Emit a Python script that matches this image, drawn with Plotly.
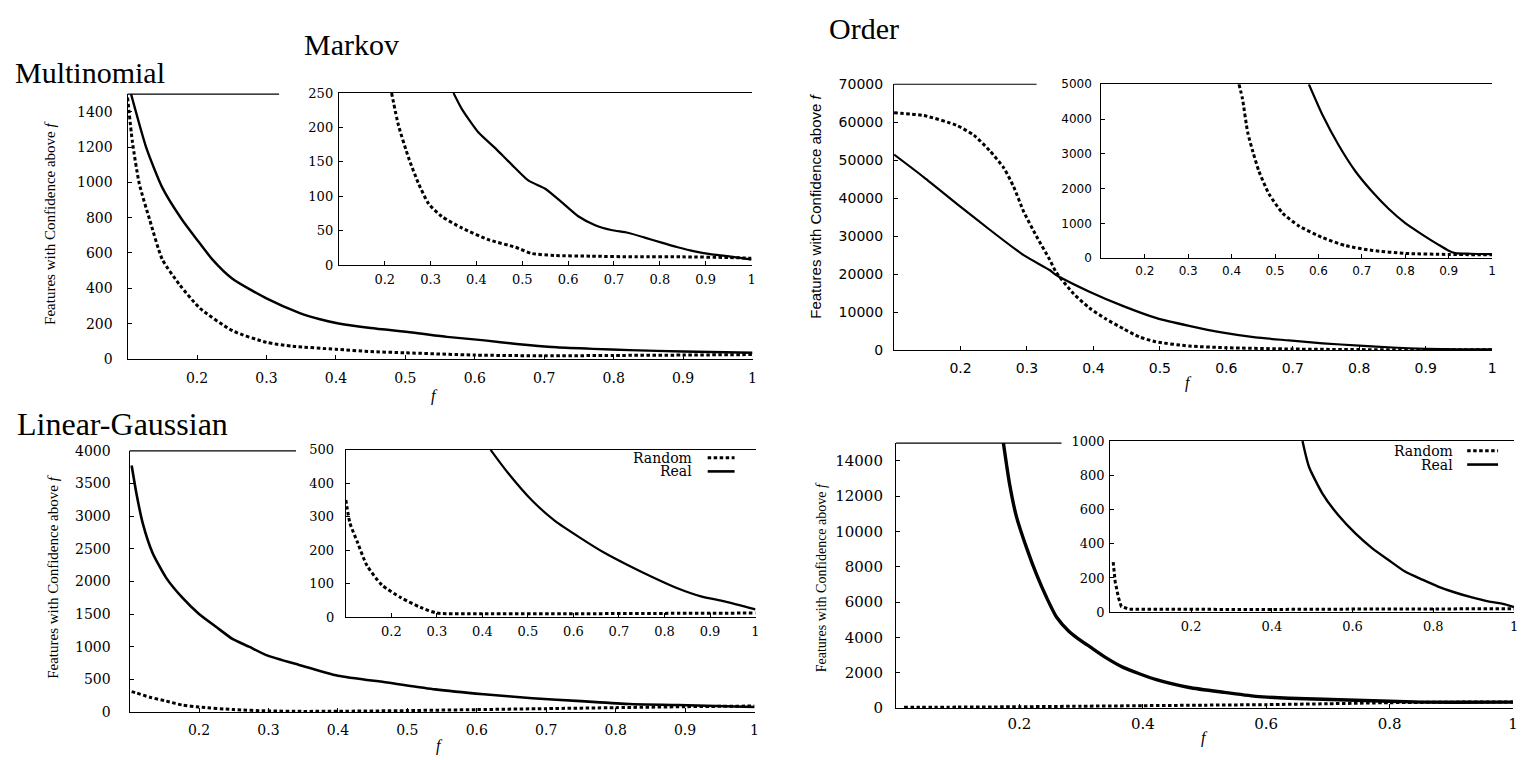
import plotly.graph_objects as go

W, H = 1526, 760

# ---------------- data: features with confidence above f ----------------
# Multinomial (main, top left)
multi_real_x = [0.105, 0.127, 0.15, 0.178, 0.2, 0.222, 0.251, 0.30, 0.348, 0.377, 0.404, 0.45, 0.51, 0.56, 0.614, 0.66, 0.718, 0.77, 0.823, 0.9, 1.0]
multi_real_y = [1500, 1195, 970, 791, 675, 564, 454, 343, 260, 225, 201, 175, 150, 125, 105, 85, 66, 57, 50, 42, 35]
multi_rand_x = [0.1, 0.107, 0.117, 0.132, 0.15, 0.175, 0.204, 0.251, 0.30, 0.338, 0.40, 0.45, 0.5, 0.6, 0.7, 0.8, 0.9, 1.0]
multi_rand_y = [1480, 1228, 990, 786, 564, 420, 288, 160, 94, 72, 55, 42, 35, 22, 18, 20, 22, 25]

# Markov (inset, top left)
markov_real_x = [0.35, 0.368, 0.404, 0.441, 0.477, 0.513, 0.55, 0.585, 0.622, 0.659, 0.694, 0.73, 0.767, 0.802, 0.839, 0.876, 0.91, 0.948, 1.0]
markov_real_y = [250, 227, 193, 170, 146, 123, 111, 92, 71, 58, 51, 47, 40, 33, 26, 20, 16, 13, 8]
markov_rand_x = [0.215, 0.23, 0.252, 0.274, 0.296, 0.324, 0.368, 0.426, 0.485, 0.52, 0.57, 0.65, 0.75, 0.85, 0.95, 1.0]
markov_rand_y = [250, 203, 156, 118, 89, 71, 54, 37, 26, 17, 14, 13, 12, 12, 11, 10]

# Order (main, top right)
order_real_x = [0.1, 0.145, 0.194, 0.244, 0.295, 0.334, 0.344, 0.394, 0.445, 0.494, 0.544, 0.595, 0.644, 0.694, 0.745, 0.8, 0.85, 0.9, 0.95, 1.0]
order_real_y = [51500, 45500, 38600, 31700, 25000, 21100, 19800, 15400, 11600, 8500, 6400, 4600, 3350, 2570, 1800, 1200, 700, 350, 200, 200]
order_rand_x = [0.1, 0.145, 0.194, 0.22, 0.244, 0.265, 0.28, 0.295, 0.314, 0.334, 0.344, 0.37, 0.394, 0.419, 0.445, 0.469, 0.494, 0.544, 0.6, 0.7, 0.8, 0.9, 1.0]
order_rand_y = [62500, 61750, 59200, 56600, 52500, 48000, 43000, 36500, 30100, 23900, 20500, 14900, 11100, 8200, 5660, 3500, 2200, 1100, 650, 300, 150, 120, 120]

# Order (inset, top right)
order_in_real_x = [0.578, 0.61, 0.646, 0.685, 0.724, 0.761, 0.80, 0.84, 0.876, 0.899, 0.915, 0.95, 1.0]
order_in_real_y = [5000, 4100, 3260, 2500, 1910, 1430, 1010, 674, 393, 225, 150, 130, 120]
order_in_rand_x = [0.417, 0.425, 0.437, 0.449, 0.463, 0.486, 0.518, 0.555, 0.61, 0.662, 0.724, 0.80, 0.9, 1.0]
order_in_rand_y = [5000, 4580, 3620, 3060, 2500, 1850, 1290, 930, 590, 365, 225, 140, 110, 100]

# Linear-Gaussian (main, bottom left)
lg_real_x = [0.103, 0.11, 0.119, 0.133, 0.153, 0.176, 0.2, 0.225, 0.248, 0.272, 0.297, 0.344, 0.40, 0.471, 0.54, 0.61, 0.68, 0.75, 0.82, 0.89, 1.0]
lg_real_y = [3775, 3340, 2890, 2440, 2050, 1750, 1500, 1300, 1120, 1000, 870, 720, 554, 450, 345, 270, 210, 165, 120, 105, 75]
lg_rand_x = [0.103, 0.11, 0.129, 0.153, 0.176, 0.2, 0.25, 0.3, 0.35, 0.4, 0.5, 0.6, 0.7, 0.8, 0.9, 1.0]
lg_rand_y = [310, 290, 225, 165, 105, 75, 35, 15, 8, 10, 20, 35, 50, 65, 80, 90]

# Linear-Gaussian (inset, bottom left)
lg_in_real_x = [0.418, 0.455, 0.508, 0.56, 0.615, 0.667, 0.72, 0.773, 0.827, 0.88, 0.932, 1.0]
lg_in_real_y = [500, 433, 350, 287, 237, 193, 155, 120, 87, 62, 47, 23]
lg_in_rand_x = [0.1, 0.109, 0.126, 0.146, 0.179, 0.221, 0.264, 0.3, 0.4, 0.6, 0.8, 1.0]
lg_in_rand_y = [350, 281, 222, 155, 96, 58, 29, 12, 10, 10, 11, 12]

# Bottom right (main)
br_real_x = [0.174, 0.184, 0.195, 0.212, 0.228, 0.244, 0.26, 0.28, 0.3, 0.314, 0.34, 0.368, 0.422, 0.475, 0.53, 0.583, 0.637, 0.745, 0.853, 1.0]
br_real_y = [15000, 12680, 10850, 9020, 7530, 6250, 5150, 4350, 3800, 3470, 2850, 2300, 1600, 1160, 890, 660, 550, 440, 330, 330]
br_rand_x = [0.013, 0.1, 0.2, 0.3, 0.4, 0.5, 0.6, 0.7, 0.8, 0.9, 1.0]
br_rand_y = [40, 50, 70, 100, 130, 160, 190, 240, 300, 330, 340]

# Bottom right (inset)
br_in_real_x = [0.476, 0.492, 0.525, 0.566, 0.607, 0.649, 0.689, 0.731, 0.773, 0.812, 0.854, 0.896, 0.936, 0.978, 1.0]
br_in_real_y = [1000, 850, 695, 563, 460, 373, 305, 236, 190, 150, 115, 86, 63, 46, 29]
br_in_rand_x = [0.007, 0.012, 0.02, 0.027, 0.047, 0.2, 0.4, 0.6, 0.8, 1.0]
br_in_rand_y = [293, 178, 86, 34, 17, 15, 16, 18, 18, 20]

# tick labels
f_ticks_tenths = [0.2, 0.3, 0.4, 0.5, 0.6, 0.7, 0.8, 0.9, 1.0]
f_ticks_fifths = [0.2, 0.4, 0.6, 0.8, 1.0]

SERIF_TICK = "DejaVu Serif"
SANS_TICK = "DejaVu Sans"
SERIF = "Liberation Serif"
SANS = "Liberation Sans"

RAND_DASH = "3.5px,2.5px"


def fx(px):
    return px / W


def fy(py):
    return 1 - py / H


def flabel(v):
    return "1" if v == 1.0 else f"{v:g}"


# each subplot: pixel box (left, right, top, bottom), ranges, ticks, style, data
panels = [
    dict(box=(128, 755, 88, 359), xr=[0.1, 1.0], yr=[0, 1500], xt=f_ticks_tenths,
         yt=list(range(0, 1401, 200)), fam=SERIF_TICK, fs=14, ys=11, xs=6,
         real=(multi_real_x, multi_real_y), rand=(multi_rand_x, multi_rand_y), rw=2.4),
    dict(box=(340, 754, 87, 263), xr=[0.1, 1.0], yr=[0, 250], xt=f_ticks_tenths,
         yt=list(range(0, 251, 50)), fam=SERIF_TICK, fs=13, ys=2, xs=2,
         real=(markov_real_x, markov_real_y), rand=(markov_rand_x, markov_rand_y), rw=2.2, inset=True),
    dict(box=(897, 1497, 78, 350), xr=[0.1, 1.0], yr=[0, 70000], xt=f_ticks_tenths,
         yt=list(range(0, 70001, 10000)), fam=SANS_TICK, fs=14, ys=7, xs=5,
         real=(order_real_x, order_real_y), rand=(order_rand_x, order_rand_y), rw=2.2),
    dict(box=(1105, 1497, 78, 256), xr=[0.1, 1.0], yr=[0, 5000], xt=f_ticks_tenths,
         yt=list(range(0, 5001, 1000)), fam=SANS_TICK, fs=12, ys=6, xs=1,
         real=(order_in_real_x, order_in_real_y), rand=(order_in_rand_x, order_in_rand_y), rw=2.2, inset=True),
    dict(box=(130, 757, 453, 720), xr=[0.1, 1.0], yr=[0, 4000], xt=f_ticks_tenths,
         yt=list(range(0, 4001, 500)), fam=SERIF_TICK, fs=14, ys=15, xs=5,
         real=(lg_real_x, lg_real_y), rand=(lg_rand_x, lg_rand_y), rw=2.6),
    dict(box=(347, 758, 452, 623), xr=[0.1, 1.0], yr=[0, 500], xt=f_ticks_tenths,
         yt=list(range(0, 501, 100)), fam=SERIF_TICK, fs=13, ys=8, xs=2,
         real=(lg_in_real_x, lg_in_real_y), rand=(lg_in_rand_x, lg_in_rand_y), rw=2.2, inset=True),
    dict(box=(899, 1518, 445, 716), xr=[0.0, 1.0], yr=[0, 15000], xt=f_ticks_fifths,
         yt=list(range(0, 14001, 2000)), fam=SERIF_TICK, fs=15, ys=9, xs=2,
         real=(br_real_x, br_real_y), rand=(br_rand_x, br_rand_y), rw=3.4),
    dict(box=(1114, 1519, 443, 618), xr=[0.0, 1.0], yr=[0, 1000], xt=f_ticks_fifths,
         yt=list(range(0, 1001, 200)), fam=SERIF_TICK, fs=13, ys=2, xs=2,
         real=(br_in_real_x, br_in_real_y), rand=(br_in_rand_x, br_in_rand_y), rw=2.4, inset=True,
         rand_shape="linear"),
]

fig = go.Figure()
layout_axes = {}

for i, p in enumerate(panels, start=1):
    sfx = "" if i == 1 else str(i)
    xa, ya = "x" + sfx, "y" + sfx
    left, right, top, bottom = p["box"]
    inset = p.get("inset", False)

    fig.add_trace(go.Scatter(x=p["rand"][0], y=p["rand"][1], mode="lines", xaxis=xa, yaxis=ya,
                             line=dict(color="black", width=3, dash=RAND_DASH,
                                       shape=p.get("rand_shape", "spline"), smoothing=0.6),
                             showlegend=False, hoverinfo="skip"))
    fig.add_trace(go.Scatter(x=p["real"][0], y=p["real"][1], mode="lines", xaxis=xa, yaxis=ya,
                             line=dict(color="black", width=p["rw"], shape="spline", smoothing=0.6),
                             showlegend=False, hoverinfo="skip"))

    tickfont = dict(family=p["fam"], size=p["fs"], color="black")
    layout_axes["xaxis" + sfx] = dict(
        domain=[fx(left), fx(right)], range=p["xr"], anchor=ya,
        tickvals=p["xt"], ticktext=[flabel(v) for v in p["xt"]],
        showline=True, linecolor="black", linewidth=1.2, mirror=inset,
        ticks="inside", ticklen=4, tickcolor="black", tickwidth=1,
        showgrid=False, zeroline=False, tickfont=tickfont,
        ticklabelstandoff=p["xs"], fixedrange=True,
    )
    layout_axes["yaxis" + sfx] = dict(
        domain=[fy(bottom), fy(top)], range=p["yr"], anchor=xa,
        tickvals=p["yt"], ticktext=[str(v) for v in p["yt"]],
        showline=True, linecolor="black", linewidth=1.2,
        ticks="inside", ticklen=4, tickcolor="black", tickwidth=1,
        showgrid=False, zeroline=False, tickfont=tickfont,
        ticklabelstandoff=p["ys"], fixedrange=True,
    )

# top border of each main frame, stopping where the inset labels begin
frame_tops = [(128, 280, 88), (897, 1040, 78), (130, 297, 453), (899, 1065, 445)]
shapes = [
    dict(type="line", xref="paper", yref="paper", x0=fx(a), x1=fx(b), y0=fy(y), y1=fy(y),
         line=dict(color="black", width=1.2))
    for a, b, y in frame_tops
]

annotations = []

# panel titles
for text, x, y in [("Multinomial", 13, 66), ("Markov", 303, 37), ("Order", 830, 21),
                   ("Linear-Gaussian", 15, 426)]:
    annotations.append(dict(text=text, x=fx(x), y=fy(y), xref="paper", yref="paper",
                            xanchor="left", yanchor="middle", showarrow=False,
                            font=dict(family=SERIF, size=30 if text != "Linear-Gaussian" else 32,
                                      color="black")))

# y-axis titles
ytitle = "Features with Confidence above <i>f</i>"
for x, y, fam, size in [(50, 220, SERIF, 15), (818, 203, SANS, 15), (53, 582, SERIF, 15),
                        (825, 582, SERIF, 14)]:
    annotations.append(dict(text=ytitle, x=fx(x), y=fy(y), xref="paper", yref="paper",
                            xanchor="center", yanchor="middle", textangle=-90, showarrow=False,
                            font=dict(family=fam, size=size, color="black")))

# x-axis titles
for x, y in [(436, 397), (1192, 384), (441, 755), (1208, 747)]:
    annotations.append(dict(text="<i>f</i>", x=fx(x), y=fy(y), xref="paper", yref="paper",
                            xanchor="center", yanchor="middle", showarrow=False,
                            font=dict(family=SERIF, size=16, color="black")))

# key boxes in the two lower insets: label text, then a line sample
for text_right, sample_left, sample_right, y_rand, y_real in [(696, 710, 737, 460, 474),
                                                             (1460, 1472, 1503, 453, 467)]:
    for label, yy, dash, width in [("Random", y_rand, RAND_DASH, 3), ("Real", y_real, None, 2.6)]:
        annotations.append(dict(text=label, x=fx(text_right), y=fy(yy), xref="paper", yref="paper",
                                xanchor="right", yanchor="middle", showarrow=False,
                                font=dict(family=SERIF_TICK, size=14, color="black")))
        line = dict(color="black", width=width)
        if dash:
            line["dash"] = dash
        shapes.append(dict(type="line", xref="paper", yref="paper",
                           x0=fx(sample_left), x1=fx(sample_right), y0=fy(yy), y1=fy(yy), line=line))

fig.update_layout(
    width=W, height=H, autosize=False,
    margin=dict(l=0, r=0, t=0, b=0, pad=0),
    paper_bgcolor="white", plot_bgcolor="white",
    showlegend=False,
    shapes=shapes, annotations=annotations,
    **layout_axes,
)

fig.write_html("out.html", config={"displayModeBar": False})
